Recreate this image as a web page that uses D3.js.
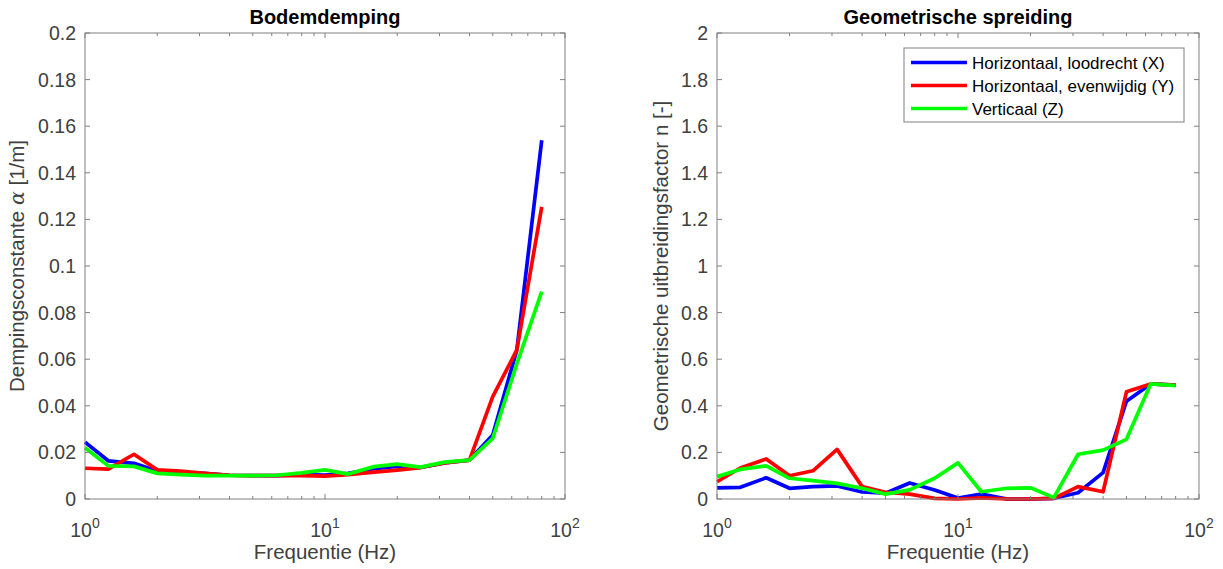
<!DOCTYPE html>
<html><head><meta charset="utf-8">
<script src="https://cdn.jsdelivr.net/npm/d3@7"></script>
<style>body{margin:0;background:#fff}svg{display:block}text{font-family:"Liberation Sans",Arial,sans-serif}</style>
</head><body><svg id="c" width="1223" height="569"></svg>
<script>
const freq = [1,1.25,1.6,2,2.5,3.15,4,5,6.3,8,10,12.5,16,20,25,31.5,40,50,63,80];
const alphaX = [0.0244,0.0164,0.0153,0.0120,0.0112,0.0110,0.0102,0.0100,0.0100,0.0105,0.0103,0.0110,0.0130,0.0140,0.0135,0.0155,0.0167,0.0275,0.0640,0.1540];
const alphaY = [0.0132,0.0128,0.0192,0.0125,0.0120,0.0110,0.0102,0.0100,0.0100,0.0100,0.0098,0.0105,0.0115,0.0124,0.0135,0.0155,0.0167,0.0439,0.0640,0.1254];
const alphaZ = [0.0220,0.0142,0.0140,0.0110,0.0105,0.0100,0.0100,0.0100,0.0102,0.0112,0.0125,0.0107,0.0139,0.0150,0.0137,0.0158,0.0167,0.0260,0.0580,0.0890];
const nX = [0.048,0.050,0.091,0.046,0.053,0.056,0.030,0.025,0.069,0.039,0.004,0.021,0.000,0.000,0.003,0.027,0.113,0.420,0.494,0.489];
const nY = [0.074,0.133,0.172,0.100,0.121,0.213,0.053,0.029,0.021,0.003,0.000,0.005,0.000,0.000,0.003,0.053,0.031,0.460,0.494,0.489];
const nZ = [0.096,0.127,0.142,0.089,0.079,0.067,0.046,0.021,0.039,0.089,0.155,0.031,0.046,0.048,0.006,0.192,0.210,0.256,0.494,0.487];
const seriesNames = ["Horizontaal, loodrecht (X)","Horizontaal, evenwijdig (Y)","Verticaal (Z)"];
const colors = ["#0000ff","#ff0000","#00ff00"];
const leftTicks = [0,0.02,0.04,0.06,0.08,0.1,0.12,0.14,0.16,0.18,0.2];
const rightTicks = [0,0.2,0.4,0.6,0.8,1,1.2,1.4,1.6,1.8,2];
const xMajor = [1,10,100];

const svg = d3.select("#c");
const axisCol = "#808080", textCol = "#404040";
const plotTop = 33, plotBottom = 499;

function panel(x0, x1, yMax, yTicks, seriesList, title, ylabel, ylabelX, legend){
  const x = d3.scaleLog().domain([1,100]).range([x0,x1]);
  const y = d3.scaleLinear().domain([0,yMax]).range([plotBottom,plotTop]);
  const g = svg.append("g");
  const line = d3.line().x((d,i)=>x(freq[i])).y(d=>y(d));
  seriesList.forEach((s,k)=>{
    g.append("path").attr("d",line(s)).attr("fill","none").attr("stroke",colors[k])
     .attr("stroke-width",3.7).attr("stroke-linejoin","round");
  });
  g.append("rect").attr("x",x0).attr("y",plotTop).attr("width",x1-x0).attr("height",plotBottom-plotTop)
   .attr("fill","none").attr("stroke",axisCol).attr("stroke-width",1);
  yTicks.forEach(t=>{
    const yy = y(t);
    g.append("line").attr("x1",x0).attr("x2",x0+5).attr("y1",yy).attr("y2",yy).attr("stroke",axisCol);
    g.append("line").attr("x1",x1).attr("x2",x1-5).attr("y1",yy).attr("y2",yy).attr("stroke",axisCol);
    g.append("text").attr("x",x0-9).attr("y",yy+7).attr("text-anchor","end")
     .attr("font-size",19.5).attr("fill",textCol).text(String(t));
  });
  const minor = [];
  for (let d of [1,10]) for (let m=2;m<=9;m++) minor.push(d*m);
  minor.forEach(t=>{
    const xx = x(t);
    g.append("line").attr("x1",xx).attr("x2",xx).attr("y1",plotBottom).attr("y2",plotBottom-3).attr("stroke",axisCol);
    g.append("line").attr("x1",xx).attr("x2",xx).attr("y1",plotTop).attr("y2",plotTop+3).attr("stroke",axisCol);
  });
  xMajor.forEach((t,i)=>{
    const xx = x(t);
    g.append("line").attr("x1",xx).attr("x2",xx).attr("y1",plotBottom).attr("y2",plotBottom-5).attr("stroke",axisCol);
    g.append("line").attr("x1",xx).attr("x2",xx).attr("y1",plotTop).attr("y2",plotTop+5).attr("stroke",axisCol);
    const tx = g.append("text").attr("x",xx).attr("y",537).attr("text-anchor","middle")
      .attr("font-size",19.5).attr("fill",textCol);
    tx.append("tspan").text("10");
    tx.append("tspan").attr("dy",-9).attr("font-size",14).text(String(i));
  });
  g.append("text").attr("x",(x0+x1)/2).attr("y",559).attr("text-anchor","middle")
   .attr("font-size",20.5).attr("fill",textCol).text("Frequentie (Hz)");
  g.append("text").attr("x",(x0+x1)/2).attr("y",24).attr("text-anchor","middle")
   .attr("font-size",20).attr("font-weight","bold").attr("fill","#000").text(title);
  const yl = g.append("text").attr("transform",`translate(${ylabelX},${(plotTop+plotBottom)/2}) rotate(-90)`)
   .attr("text-anchor","middle").attr("font-size",20.5).attr("fill",textCol);
  ylabel.forEach(p=>{ const ts = yl.append("tspan").text(p.t); if(p.i) ts.attr("font-style","italic").attr("font-family","'DejaVu Serif',serif"); });
  if (legend){
    const lx = 904, ly = 48, lw = 280, lh = 74;
    g.append("rect").attr("x",lx).attr("y",ly).attr("width",lw).attr("height",lh)
     .attr("fill","#fff").attr("stroke",axisCol);
    seriesNames.forEach((n,k)=>{
      const yy = ly + 14.5 + k*23;
      g.append("line").attr("x1",lx+7).attr("x2",lx+63).attr("y1",yy).attr("y2",yy)
       .attr("stroke",colors[k]).attr("stroke-width",3.7);
      g.append("text").attr("x",lx+68).attr("y",yy+6).attr("font-size",17).attr("fill","#000").text(n);
    });
  }
}
panel(85,565,0.2,leftTicks,[alphaX,alphaY,alphaZ],"Bodemdemping",
  [{t:"Dempingsconstante "},{t:"α",i:true},{t:" [1/m]"}],24,false);
panel(717,1199,2,rightTicks,[nX,nY,nZ],"Geometrische spreiding",
  [{t:"Geometrische uitbreidingsfactor n [-]"}],668,true);
</script></body></html>
